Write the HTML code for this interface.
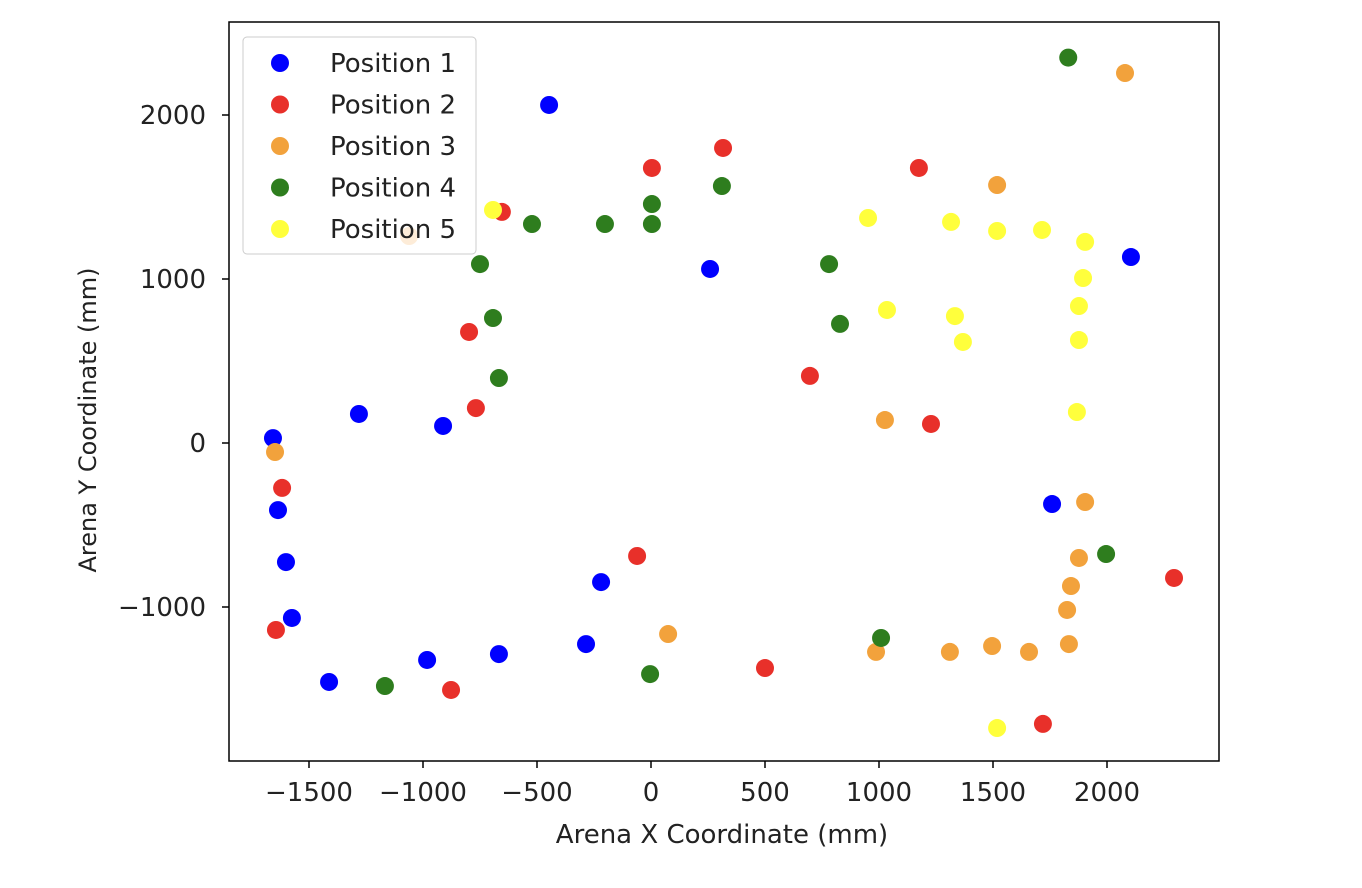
<!DOCTYPE html>
<html><head><meta charset="utf-8"><style>
body{margin:0;background:#fff;font-family:"Liberation Sans","DejaVu Sans",sans-serif}
</style></head><body>
<svg id="chart" width="1362" height="883" xmlns="http://www.w3.org/2000/svg" font-family="DejaVu Sans, Liberation Sans, sans-serif">
<rect x="0" y="0" width="1362" height="883" fill="#fff"/>
<g id="ticks"></g>
<g id="points"></g>
<rect x="229" y="22" width="990" height="739" fill="none" stroke="#000" stroke-width="1.5"/>
<text x="722" y="843" font-size="26" text-anchor="middle" fill="#222">Arena X Coordinate (mm)</text>
<text x="96" y="420" font-size="24" text-anchor="middle" fill="#222" transform="rotate(-90 96 420)">Arena Y Coordinate (mm)</text>
<g id="legend"></g>
</svg>
<script>
const xTicks=[-1500,-1000,-500,0,500,1000,1500,2000];
const yTicks=[-1000,0,1000,2000];
const seriesNames=["Position 1","Position 2","Position 3","Position 4","Position 5"];
const seriesColors=["#0000ff","#e8302a","#f2a23c","#2e7d1e","#ffff3c"];
const p1x=[-447,259,2105,-1658,-1281,-912,-1636,-1601,-1575,-219,-285,-667,1759,-1412,-982];
const p1y=[2061,1061,1134,30,177,104,-409,-726,-1067,-848,-1226,-1287,-372,-1457,-1323];
const p2x=[316,4,1175,-654,-798,-768,697,1228,-1618,-61,2294,-1645,500,-877,1719];
const p2y=[1799,1677,1677,1409,677,213,409,116,-274,-689,-823,-1140,-1372,-1506,-1713];
const p3x=[2079,1518,-1061,1026,-1649,1904,1877,1842,1825,75,987,1311,1496,1658,1833];
const p3y=[2256,1573,1262,140,-55,-360,-701,-872,-1018,-1165,-1274,-1274,-1238,-1274,-1226];
const p4x=[1830,311,4,4,-202,-522,-750,781,829,-693,-667,1996,1009,-4,-1167];
const p4y=[2350,1567,1457,1335,1335,1335,1091,1091,726,762,396,-677,-1189,-1409,-1482];
const p5x=[-693,952,1316,1518,1715,1904,1895,1035,1333,1368,1877,1877,1868,1518];
const p5y=[1421,1372,1348,1293,1299,1226,1006,811,774,616,835,628,189,-1738];
const seriesX=[p1x,p2x,p3x,p4x,p5x], seriesY=[p1y,p2y,p3y,p4y,p5y];
const NS="http://www.w3.org/2000/svg";
const X=v=>651+v*0.228, Y=v=>443-v*0.164;
const tg=document.getElementById('ticks');
xTicks.forEach(t=>{
 const l=document.createElementNS(NS,'line');
 l.setAttribute('x1',X(t));l.setAttribute('x2',X(t));l.setAttribute('y1',761);l.setAttribute('y2',768);l.setAttribute('stroke','#000');l.setAttribute('stroke-width','1.5');
 
 
 tg.appendChild(l);
 const tx=document.createElementNS(NS,'text');
 tx.setAttribute('x',X(t));tx.setAttribute('y',801);tx.setAttribute('font-size','26');tx.setAttribute('text-anchor','middle');tx.setAttribute('fill','#222');
 tx.textContent=t<0?'\u2212'+Math.abs(t):t;
 
 
 tg.appendChild(tx);
});
yTicks.forEach(t=>{
 const l=document.createElementNS(NS,'line');
 l.setAttribute('x1',222);l.setAttribute('x2',229);l.setAttribute('y1',Y(t));l.setAttribute('y2',Y(t));l.setAttribute('stroke','#000');l.setAttribute('stroke-width','1.5');
 
 
 tg.appendChild(l);
 const tx=document.createElementNS(NS,'text');
 tx.setAttribute('x',206);tx.setAttribute('y',Y(t)+9);tx.setAttribute('font-size','26');tx.setAttribute('text-anchor','end');tx.setAttribute('fill','#222');
 tx.textContent=t<0?'\u2212'+Math.abs(t):t;
 
 
 tg.appendChild(tx);
});
const pg=document.getElementById('points');
seriesX.forEach((xs,s)=>{
 xs.forEach((xv,i)=>{
  const c=document.createElementNS(NS,'circle');
  c.setAttribute('cx',X(xv));c.setAttribute('cy',Y(seriesY[s][i]));c.setAttribute('r',9);c.setAttribute('fill',seriesColors[s]);
  
  
  pg.appendChild(c);
 });
});
const lg=document.getElementById('legend');
const box=document.createElementNS(NS,'rect');
box.setAttribute('x',243);box.setAttribute('y',37);box.setAttribute('width',233);box.setAttribute('height',217);box.setAttribute('rx',4);box.setAttribute('fill','rgba(255,255,255,0.8)');box.setAttribute('stroke','#ccc');


lg.appendChild(box);
seriesNames.forEach((n,i)=>{
 const y=63+i*41.5;
 const c=document.createElementNS(NS,'circle');
 c.setAttribute('cx',280);c.setAttribute('cy',y);c.setAttribute('r',9);c.setAttribute('fill',seriesColors[i]);
 
 
 lg.appendChild(c);
 const t=document.createElementNS(NS,'text');
 t.setAttribute('x',330);t.setAttribute('y',y+9);t.setAttribute('font-size','26');t.setAttribute('fill','#222');
 t.textContent=n;
 
 
 lg.appendChild(t);
});
</script>
</body></html>
